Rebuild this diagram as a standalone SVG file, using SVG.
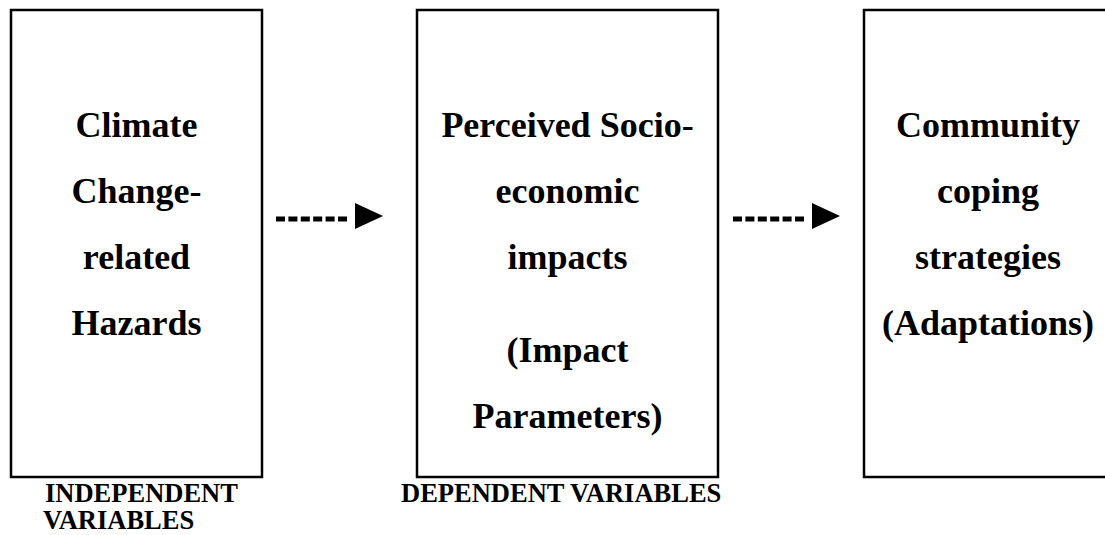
<svg xmlns="http://www.w3.org/2000/svg" width="1105" height="535" viewBox="0 0 1105 535">
<style>
.box{fill:#fff;stroke:#000;stroke-width:2.5}
.t{font-family:"Liberation Serif","Times New Roman",serif;font-weight:bold;font-size:36px;text-anchor:middle;fill:#000}
.lab{font-family:"Liberation Serif","Times New Roman",serif;font-weight:bold;font-size:26.5px;fill:#000}
.dash{stroke:#000;stroke-width:5;stroke-dasharray:9 3.4;fill:none}
</style>
<defs>
<marker id="tri" markerUnits="userSpaceOnUse" markerWidth="40" markerHeight="30" refX="-8" refY="16" orient="auto" overflow="visible">
<path d="M0,0 L28,13 L0,26 Z" fill="#000"/>
</marker>
</defs>
<rect width="1105" height="535" fill="#fff"/>
<g id="node-hazards">
<rect class="box" x="11" y="10" width="251" height="467"/>
<text class="t" x="136.5" y="137">Climate</text>
<text class="t" x="136.5" y="203">Change-</text>
<text class="t" x="136.5" y="269">related</text>
<text class="t" x="136.5" y="335">Hazards</text>
</g>
<g id="node-impacts">
<rect class="box" x="417" y="10" width="301" height="467"/>
<text class="t" x="567.5" y="137">Perceived Socio-</text>
<text class="t" x="567.5" y="203">economic</text>
<text class="t" x="567.5" y="269">impacts</text>
<text class="t" x="567.5" y="362">(Impact</text>
<text class="t" x="567.5" y="428">Parameters)</text>
</g>
<g id="node-coping">
<rect class="box" x="864" y="10" width="250" height="467"/>
<text class="t" x="988" y="137">Community</text>
<text class="t" x="988" y="203">coping</text>
<text class="t" x="988" y="269">strategies</text>
<text class="t" x="988" y="335">(Adaptations)</text>
</g>
<g id="labels">
<text class="lab" x="45" y="502">INDEPENDENT</text>
<text class="lab" x="43" y="529">VARIABLES</text>
<text class="lab" x="401" y="502">DEPENDENT VARIABLES</text>
</g>
<g id="connectors">
<line class="dash" x1="276" y1="219" x2="347" y2="219" marker-end="url(#tri)"/>
<line class="dash" x1="733" y1="219" x2="804" y2="219" marker-end="url(#tri)"/>
</g>
</svg>
